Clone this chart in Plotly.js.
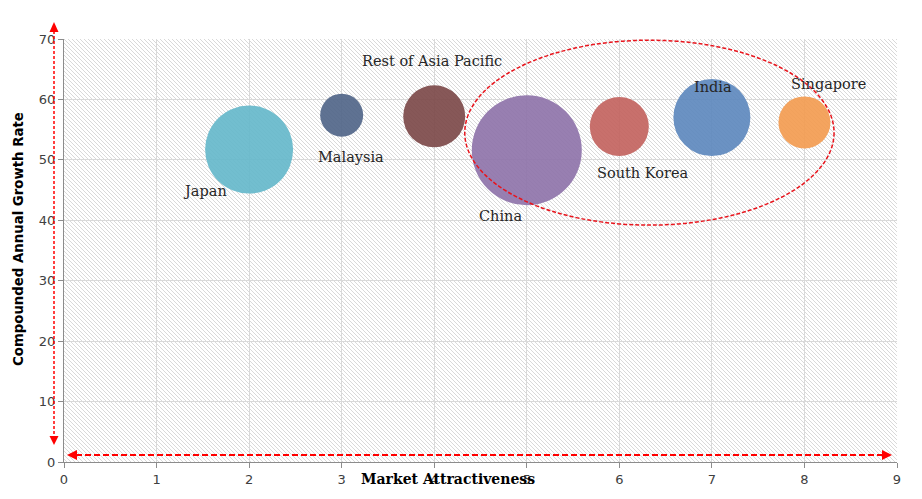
<!DOCTYPE html>
<html>
<head>
<meta charset="utf-8">
<script src="https://cdn.plot.ly/plotly-3.0.1.min.js"></script>
<style>
  html, body { margin: 0; padding: 0; background: #ffffff; }
  #wrap { position: relative; width: 922px; height: 499px; }
  #hatch {
    position: absolute; left: 64px; top: 39px; width: 833px; height: 423px;
    background-color: #ffffff;
    background-image: url("data:image/svg+xml;utf8,<svg xmlns='http://www.w3.org/2000/svg' width='4' height='4' shape-rendering='crispEdges'><rect x='0' y='0' width='1' height='1' fill='%23d9d9d9'/><rect x='1' y='1' width='1' height='1' fill='%23d9d9d9'/><rect x='2' y='2' width='1' height='1' fill='%23d9d9d9'/><rect x='3' y='3' width='1' height='1' fill='%23d9d9d9'/></svg>");
    background-repeat: repeat;
    background-size: 4px 4px;
    image-rendering: pixelated;
  }
  #chart { position: absolute; left: 0; top: 0; width: 922px; height: 499px; }
</style>
</head>
<body>
<div id="wrap">
  <div id="hatch"></div>
  <div id="chart"></div>
</div>
<script>
// ---- data ----
const countries = ["Japan", "Malaysia", "Rest of Asia Pacific", "China", "South Korea", "India", "Singapore"];
const marketAttractiveness = [2, 3, 4, 5, 6, 7, 8];
const growthRate = [51.7, 57.4, 57.2, 51.6, 55.5, 57.0, 56.2];
const bubbleSize = [88, 43, 62, 110, 59, 77, 52];
const xTicks = [0, 1, 2, 3, 4, 5, 6, 7, 8, 9];
const yTicks = [0, 10, 20, 30, 40, 50, 60, 70];

// ---- styles ----
const colors = ["#63b7ca", "#4e6386", "#7a4646", "#8d71a8", "#c2605c", "#5b86bc", "#f39a4e"];
// label offsets in pixels relative to bubble centres (dx, dy up-positive)
const labelShift = [[-44, -41], [9, -42], [-2, 55], [-26, -66], [23, -46], [1, 31], [24, 38]];

const W = 922, H = 499, M = { l: 64, r: 25, t: 39, b: 37 };
const PW = W - M.l - M.r, PH = H - M.t - M.b;
const px = v => (v - M.l) / PW;          // pixel x -> paper
const py = v => (H - M.b - v) / PH;      // pixel y -> paper
function tri(a, b, c) {
  return "M" + px(a[0]) + "," + py(a[1]) + " L" + px(b[0]) + "," + py(b[1]) +
         " L" + px(c[0]) + "," + py(c[1]) + " Z";
}

const trace = {
  type: "scatter",
  mode: "markers",
  x: marketAttractiveness,
  y: growthRate,
  text: countries,
  hoverinfo: "text",
  marker: {
    size: bubbleSize,
    sizemode: "diameter",
    sizeref: 1,
    color: colors,
    opacity: 0.9,
    line: { width: 0 }
  },
  showlegend: false
};

const red = "#ff0000";
const shapes = [
  // circled group
  { type: "circle", xref: "x", yref: "y", x0: 4.33, x1: 8.32, y0: 39.2, y1: 69.8,
    line: { color: "#e8141c", width: 1.5, dash: "4px,2px" }, layer: "above" },
  // vertical arrow
  { type: "line", xref: "paper", yref: "paper", x0: px(54), x1: px(54), y0: py(31), y1: py(437),
    line: { color: red, width: 1.5, dash: "3px,2px" }, layer: "above" },
  { type: "path", xref: "paper", yref: "paper", path: tri([54, 22], [49.5, 32], [58.5, 32]),
    fillcolor: red, line: { width: 0 }, layer: "above" },
  { type: "path", xref: "paper", yref: "paper", path: tri([54, 445], [49.5, 436], [58.5, 436]),
    fillcolor: red, line: { width: 0 }, layer: "above" },
  // horizontal arrow
  { type: "line", xref: "paper", yref: "paper", x0: px(76), x1: px(883), y0: py(455), y1: py(455),
    line: { color: red, width: 2, dash: "6px,3px" }, layer: "above" },
  { type: "path", xref: "paper", yref: "paper", path: tri([67, 455], [77, 450], [77, 460]),
    fillcolor: red, line: { width: 0 }, layer: "above" },
  { type: "path", xref: "paper", yref: "paper", path: tri([892, 455], [882, 450], [882, 460]),
    fillcolor: red, line: { width: 0 }, layer: "above" }
];

const annotations = countries.map((c, i) => ({
  x: marketAttractiveness[i], y: growthRate[i], xref: "x", yref: "y",
  text: c, showarrow: false,
  xshift: labelShift[i][0], yshift: labelShift[i][1],
  font: { family: "DejaVu Serif, serif", size: 14.5, color: "#262626" }
}));
annotations.push({
  xref: "paper", yref: "paper", x: px(448), y: py(479), xanchor: "center", yanchor: "middle",
  text: "<b>Market Attractiveness</b>", showarrow: false,
  font: { family: "DejaVu Serif, serif", size: 14, color: "#000000" }
});
annotations.push({
  xref: "paper", yref: "paper", x: px(18), y: py(239), xanchor: "center", yanchor: "middle",
  text: "<b>Compounded Annual Growth Rate</b>", showarrow: false, textangle: -90,
  font: { family: "DejaVu Sans, sans-serif", size: 13.3, color: "#000000" }
});

const axisCommon = {
  showgrid: true, gridcolor: "#d9d9d9", gridwidth: 1,
  showline: true, linecolor: "#8c8c8c", linewidth: 1,
  ticks: "outside", ticklen: 5, tickcolor: "#8c8c8c",
  zeroline: false, fixedrange: true,
  tickfont: { family: "DejaVu Sans, sans-serif", size: 13, color: "#404040" }
};

const layout = {
  width: W, height: H,
  margin: M,
  paper_bgcolor: "rgba(0,0,0,0)",
  plot_bgcolor: "rgba(0,0,0,0)",
  xaxis: Object.assign({}, axisCommon, { range: [0, 9], tickvals: xTicks, ticktext: xTicks.map(String) }),
  yaxis: Object.assign({}, axisCommon, { range: [0, 70], tickvals: yTicks, ticktext: yTicks.map(String) }),
  shapes: shapes,
  annotations: annotations
};

Plotly.newPlot("chart", [trace], layout, { displayModeBar: false, staticPlot: true });
</script>
</body>
</html>
